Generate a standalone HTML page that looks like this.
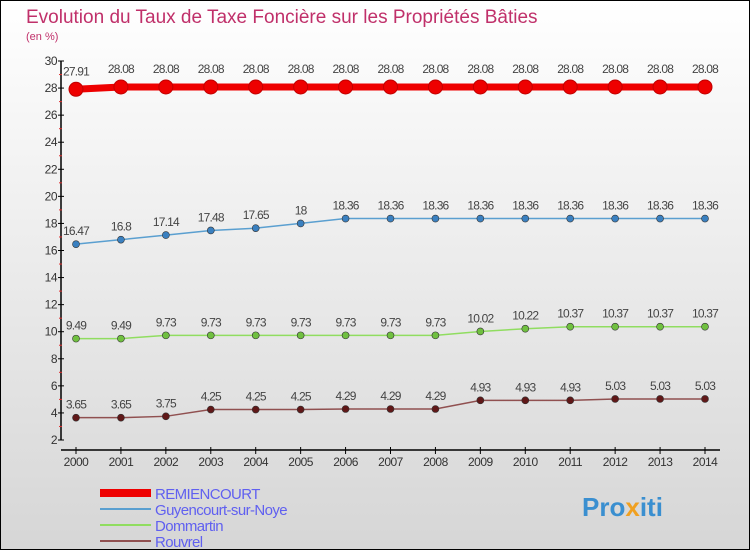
<!DOCTYPE html>
<html><head><meta charset="utf-8"><style>
html,body{margin:0;padding:0}
body{width:750px;height:550px;overflow:hidden;font-family:"Liberation Sans",sans-serif}
</style></head><body>
<svg id="c" width="750" height="550" xmlns="http://www.w3.org/2000/svg">
<defs><linearGradient id="bg" x1="0" y1="0" x2="0" y2="1"><stop offset="0" stop-color="#ffffff"/><stop offset="1" stop-color="#d6d6d6"/></linearGradient></defs>
<rect x="0.5" y="0.5" width="749" height="549" fill="url(#bg)" stroke="#000"/>
<text x="26" y="23" font-size="19" fill="#c0306a">Evolution du Taux de Taxe Foncière sur les Propriétés Bâties</text>
<text x="26" y="40" font-size="11" fill="#c0306a">(en %)</text>
<g id="axes"></g><g id="series"></g><g id="legend"></g>
<text x="582" y="516" font-size="26" font-weight="bold" fill="#3a8fd0">Pro<tspan fill="#f0a020">x</tspan><tspan fill="#3a8fd0">iti</tspan></text>
</svg>
<script>
const years=[2000,2001,2002,2003,2004,2005,2006,2007,2008,2009,2010,2011,2012,2013,2014];
const remiencourt=[27.91,28.08,28.08,28.08,28.08,28.08,28.08,28.08,28.08,28.08,28.08,28.08,28.08,28.08,28.08];
const guyencourt=[16.47,16.8,17.14,17.48,17.65,18,18.36,18.36,18.36,18.36,18.36,18.36,18.36,18.36,18.36];
const dommartin=[9.49,9.49,9.73,9.73,9.73,9.73,9.73,9.73,9.73,10.02,10.22,10.37,10.37,10.37,10.37];
const rouvrel=[3.65,3.65,3.75,4.25,4.25,4.25,4.29,4.29,4.29,4.93,4.93,4.93,5.03,5.03,5.03];
const yTicks=[2,4,6,8,10,12,14,16,18,20,22,24,26,28,30];
const seriesNames=["REMIENCOURT","Guyencourt-sur-Noye","Dommartin","Rouvrel"];
const NS="http://www.w3.org/2000/svg";
const xs=y=>76+(y-2000)*(705-76)/14;
const ys=v=>440-(v-2)*(440-61)/28;
function mk(t,a,p){const e=document.createElementNS(NS,t);for(const k in a)e.setAttribute(k,a[k]);p.appendChild(e);return e;}
const ax=document.getElementById('axes');
let l=mk('line',{x1:61,y1:ys(30),x2:61,y2:440,stroke:'#000','stroke-width':1.5},ax);


l=mk('line',{x1:61,y1:450,x2:720,y2:450,stroke:'#000','stroke-width':1.5},ax);


yTicks.forEach(v=>{
 mk('line',{x1:58,y1:ys(v),x2:64,y2:ys(v),stroke:'#000'},ax);
 if(v<30)mk('line',{x1:59,y1:ys(v+1),x2:62,y2:ys(v+1),stroke:'#e03030'},ax);
 const t=mk('text',{x:57,y:ys(v)+4,'font-size':12,fill:'#333','text-anchor':'end','letter-spacing':'-0.5'},ax);
 t.textContent=v;
 
 
});
years.forEach(y=>{
 mk('line',{x1:xs(y),y1:447,x2:xs(y),y2:454,stroke:'#000'},ax);
 const t=mk('text',{x:xs(y),y:466,'font-size':12,fill:'#333','text-anchor':'middle','letter-spacing':'-0.5'},ax);
 t.textContent=y;
 
 
});
const sg=document.getElementById('series');
const defs=[[remiencourt,'#ee0000','#ee0000',7,7],[guyencourt,'#5a9fd0','#3a80c0',1.5,3.5],[dommartin,'#90dd60','#70c040',1.5,3.5],[rouvrel,'#905050','#601818',1.5,3.5]];
defs.forEach((d,si)=>{
 const [vals,lc,pc,w,r]=d;
 const g=mk('g',{},sg);
 
 
 const p=mk('polyline',{points:vals.map((v,i)=>xs(years[i])+','+ys(v)).join(' '),fill:'none',stroke:lc,'stroke-width':w},g);
 
 
 vals.forEach((v,i)=>{
  const c=mk('circle',{cx:xs(years[i]),cy:ys(v),r:r,fill:pc,stroke:si==0?'#c00000':'#333','stroke-width':si==0?1:0.6},g);
  
  
  const t=mk('text',{x:xs(years[i]),y:ys(v)-(si==0?14:9),'font-size':12,fill:'#444','text-anchor':'middle','letter-spacing':'-0.8'},g);
  t.textContent=v;
  
  
 });
});
const lg=document.getElementById('legend');
defs.forEach((d,i)=>{
 const y=493+i*16;
 const s=mk('rect',{x:100,y:y-(i==0?4:1),width:51,height:i==0?8:2,fill:d[1]},lg);
 
 
 const t=mk('text',{x:155,y:y+6,'font-size':15,fill:'#6060f0','letter-spacing':'-0.6'},lg);
 t.textContent=seriesNames[i];
 
 
});
</script>
</body></html>
